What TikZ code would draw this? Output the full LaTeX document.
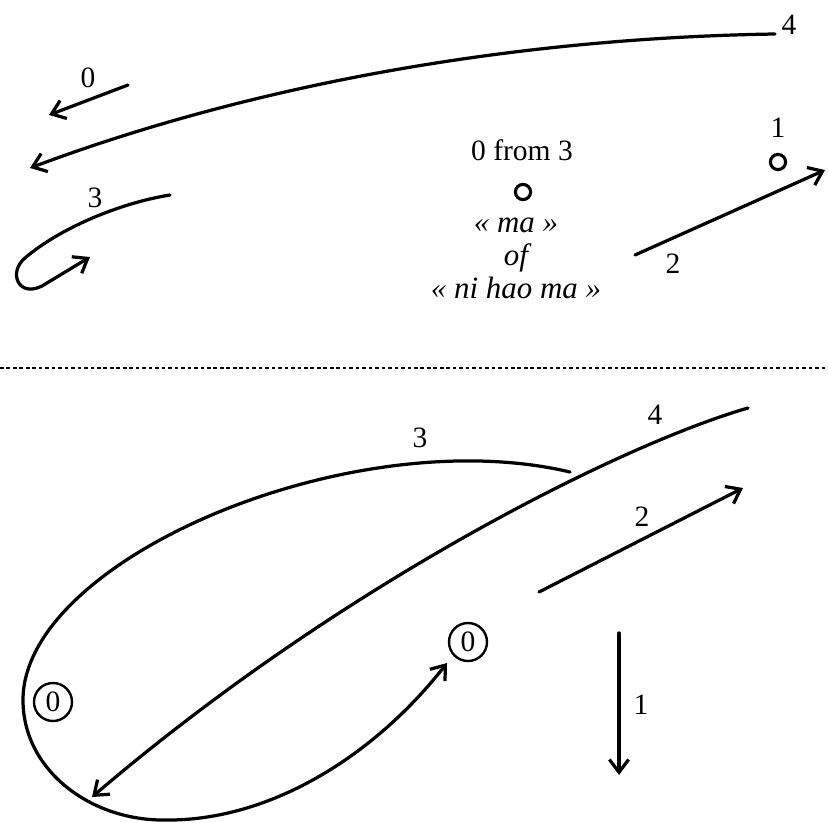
\documentclass[tikz,border=0pt]{standalone}
\usepackage{fontspec}
\setmainfont{Liberation Serif}
\usepackage{tikz}
\usetikzlibrary{arrows.meta,positioning,calc}

\begin{document}
\begin{tikzpicture}[
    x=0.025cm,y=-0.025cm,
    trait/.style   = {line width=2.3pt,line cap=round},
    fleche/.style  = {trait,-{Straight Barb[length=3.2mm,width=4.8mm,line width=2.3pt]}},
    num/.style     = {font=\fontsize{21}{23.4}\selectfont,inner sep=0pt},
    rond/.style    = {circle,draw,line width=2.2pt,minimum size=0.38cm,inner sep=0pt},
    rondnum/.style = {circle,draw,line width=1.7pt,minimum size=0.95cm,inner sep=0pt,
                      font=\fontsize{21}{23.4}\selectfont},
    pointille/.style = {line width=1.5pt,dash pattern=on 2.6pt off 2pt},
  ]
  \useasboundingbox (0,0) rectangle (828,822);

  % haut
  \coordinate (z0a) at (128,85);
  \coordinate (z0b) at (49,115);
  \node[num] (l0) at (88,78) {0};
  \draw[fleche] (z0a) -- (z0b);

  \coordinate (q4a) at (775,34);
  \coordinate (q4b) at (30,168);
  \node[num] (l4) at (789,25) {4};
  \draw[fleche] (q4a) .. controls (520,38) and (260,82) .. (q4b);

  \coordinate (h3a) at (170,195);
  \coordinate (h3b) at (90,257);
  \node[num] (l3) at (95,198) {3};
  \draw[fleche] (h3a) .. controls (120,203) and (60,228) .. (25,258)
                .. controls (8,272) and (18,298) .. (42,286) -- (h3b);

  \node[num] (titre) at (522,150) {0 from 3};
  \node[rond] (p0) at (523,192) {};
  \node[num,font=\fontsize{22}{23.4}\selectfont\itshape,align=center] (ma) at (516,258)
       {« ma »\\of\\« ni hao ma »};

  \node[num] (l1) at (778,128) {1};
  \node[rond] (p1) at (778,162) {};
  \coordinate (d2a) at (635,255);
  \coordinate (d2b) at (825,170);
  \node[num] (l2) at (673,264) {2};
  \draw[fleche] (d2a) -- (d2b);

  \coordinate (sg) at (0,368);
  \coordinate (sd) at (828,368);
  \draw[pointille] (sg) -- (sd);

  % bas
  \node[rondnum] (c0g) at (53,702) {0};
  \node[rondnum] (c0d) at (468,642) {0};

  \coordinate (b3a) at (570,472);
  \coordinate (b3b) at (447,663);
  \node[num] (m3) at (420,438) {3};
  \draw[fleche] (b3a) .. controls (350,420) and (23,560) .. (23,700)
                .. controls (23,770) and (90,820) .. (163,820)
                .. controls (270,822) and (375,755) .. (b3b);

  \coordinate (b4a) at (748,408);
  \coordinate (b4b) at (92,797);
  \node[num] (m4) at (655,415) {4};
  \draw[fleche] (b4a) .. controls (620,445) and (340,585) .. (b4b);

  \coordinate (e2a) at (539,592);
  \coordinate (e2b) at (743,488);
  \node[num] (m2) at (642,517) {2};
  \draw[fleche] (e2a) -- (e2b);

  \coordinate (e1a) at (619,633);
  \coordinate (e1b) at (619,775);
  \node[num] (m1) at (641,705) {1};
  \draw[fleche] (e1a) -- (e1b);

\end{tikzpicture}
\end{document}
